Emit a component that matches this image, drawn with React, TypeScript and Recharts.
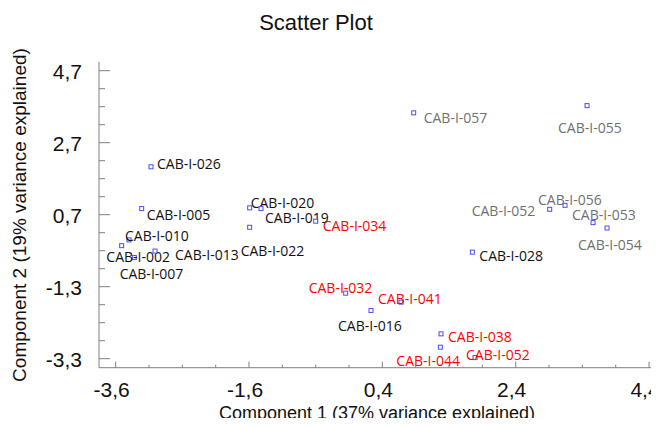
import { ScatterChart, Scatter, XAxis, YAxis } from "recharts";

// PCA scores
const names = [
  "CAB-I-026", "CAB-I-005", "CAB-I-020", "CAB-I-019", "CAB-I-022", "CAB-I-034",
  "CAB-I-010", "CAB-I-007", "CAB-I-002", "CAB-I-013", "CAB-I-032", "CAB-I-016",
  "CAB-I-041", "CAB-I-038", "CAB-I-044", "CAB-I-052", "CAB-I-028", "CAB-I-057",
  "CAB-I-055", "CAB-I-052", "CAB-I-056", "CAB-I-053", "CAB-I-054",
];
const component1 = [
  -3.07, -3.21, -1.59, -1.42, -1.59, -0.6,
  -3.4, -3.51, -3.32, -3.01, -0.15, 0.23,
  0.68, 1.28, 1.27, 1.79, 1.75, 0.87,
  3.47, 2.91, 3.14, 3.56, 3.77,
];
const component2 = [
  2.03, 0.87, 0.89, 0.87, 0.35, 0.52,
  0.0, -0.16, -0.49, -0.31, -1.48, -1.96,
  -1.73, -2.61, -2.98, -3.27, -0.34, 3.53,
  3.73, 0.85, 0.96, 0.48, 0.33,
];
const groups = [
  "a", "a", "a", "a", "a", "c",
  "a", "a", "a", "a", "c", "a",
  "c", "c", "c", "c", "a", "b",
  "b", "b", "b", "b", "b",
];

const xTicks = [-3.6, -3.1, -2.6, -2.1, -1.6, -1.1, -0.6, -0.1, 0.4, 0.9, 1.4, 1.9, 2.4, 2.9, 3.4, 3.9, 4.4];
const yTicks = [4.7, 4.2, 3.7, 3.2, 2.7, 2.2, 1.7, 1.2, 0.7, 0.2, -0.3, -0.8, -1.3, -1.8, -2.3, -2.8, -3.3];
const xMajorTicks = [-3.6, -1.6, 0.4, 2.4, 4.4];
const yMajorTicks = [4.7, 2.7, 0.7, -1.3, -3.3];

// where each name sits relative to its point (label left edge, vertical middle)
const labelOffsets = [
  [6, -3], [5, 6], [1, -5], [4, 9], [-9, 23], [7, 4],
  [-4, -4], [-2, 28], [-28, -1], [20, 3], [-37, -6], [-33, 15],
  [-23, -4], [7, 3], [-44, 13], [-9, -3], [7, 3], [10, 5],
  [-29, 22], [-78, 1], [-27, -6], [-21, -8], [-29, 16],
];

const groupColors: Record<string, string> = { a: "#111111", b: "#707070", c: "#ff0000" };
const AXIS = "#808080";
const FONT = "'Liberation Sans', Arial, sans-serif";

const data = names.map((name, i) => ({
  name,
  x: component1[i],
  y: component2[i],
  group: groups[i],
  dx: labelOffsets[i][0],
  dy: labelOffsets[i][1],
}));

const isMajor = (v: number, majors: number[]) => majors.some((m) => Math.abs(m - v) < 1e-6);
const fmt = (v: number) => v.toFixed(1).replace(".", ",");

function XTick(props: any) {
  const { x, y, payload, side } = props;
  const major = isMajor(payload.value, xMajorTicks);
  const len = major ? 6 : 3;
  const dir = side === "top" ? 1 : -1;
  return (
    <g>
      <line x1={x} x2={x} y1={y} y2={y + dir * len} stroke={AXIS} />
      {side !== "top" && major && (
        <text x={x - 4} y={y + 29} textAnchor="middle" fontSize={21} fontFamily={FONT} fill="#111">
          {fmt(payload.value)}
        </text>
      )}
    </g>
  );
}

function YTick(props: any) {
  const { x, y, payload, side } = props;
  const major = isMajor(payload.value, yMajorTicks);
  const len = major ? 11 : 6;
  const dir = side === "right" ? -1 : 1;
  return (
    <g>
      <line x1={x} x2={x + dir * len} y1={y} y2={y} stroke={AXIS} />
      {side !== "right" && major && (
        <text x={x - 17} y={y + 8} textAnchor="end" fontSize={21} fontFamily={FONT} fill="#111">
          {fmt(payload.value)}
        </text>
      )}
    </g>
  );
}

function PointShape(props: any) {
  const { cx, cy, payload } = props;
  return (
    <g>
      <rect x={cx - 2} y={cy - 2} width={4} height={4} fill="#fff" stroke="#4b4bff" strokeWidth={1} />
      <text
        x={cx + payload.dx}
        y={cy + payload.dy}
        dominantBaseline="central"
        fontSize={14}
        fontFamily="'Open Sans', sans-serif"
        fill={groupColors[payload.group]}
      >
        {payload.name}
      </text>
    </g>
  );
}

export default function App() {
  return (
    <div style={{ margin: -8, position: "relative", width: 659, height: 426, overflow: "hidden", background: "#fff", fontFamily: FONT }}>
      <div style={{ position: "absolute", left: 0, width: 632, top: 10, textAlign: "center", fontSize: 22, color: "#111" }}>
        Scatter Plot
      </div>
      <ScatterChart width={680} height={426} margin={{ top: 61.7, right: 14.3, bottom: 28.3, left: 39 }}>
        <XAxis
          xAxisId="bottom"
          type="number"
          dataKey="x"
          domain={[-3.85, 4.65]}
          allowDataOverflow
          ticks={xTicks}
          interval={0}
          height={30}
          tickSize={0}
          tickMargin={0}
          tickLine={false}
          axisLine={{ stroke: AXIS }}
          tick={<XTick side="bottom" />}
        />
        <XAxis
          xAxisId="top"
          orientation="top"
          type="number"
          domain={[-3.85, 4.65]}
          allowDataOverflow
          ticks={xTicks}
          interval={0}
          height={0}
          tickSize={0}
          tickMargin={0}
          tickLine={false}
          axisLine={{ stroke: AXIS }}
          tick={<XTick side="top" />}
        />
        <YAxis
          yAxisId="left"
          type="number"
          dataKey="y"
          domain={[-3.55, 4.95]}
          allowDataOverflow
          ticks={yTicks}
          interval={0}
          width={60}
          tickSize={0}
          tickMargin={0}
          tickLine={false}
          axisLine={{ stroke: AXIS }}
          tick={<YTick side="left" />}
        />
        <YAxis
          yAxisId="right"
          orientation="right"
          type="number"
          domain={[-3.55, 4.95]}
          allowDataOverflow
          ticks={yTicks}
          interval={0}
          width={0}
          tickSize={0}
          tickMargin={0}
          tickLine={false}
          axisLine={{ stroke: AXIS }}
          tick={<YTick side="right" />}
        />
        <Scatter xAxisId="bottom" yAxisId="left" data={data} shape={PointShape} isAnimationActive={false} />
      </ScatterChart>
      <div style={{ position: "absolute", left: 0, width: 754, top: 403, textAlign: "center", fontSize: 18, color: "#111" }}>
        Component 1 (37% variance explained)
      </div>
      <div
        style={{
          position: "absolute",
          left: 20,
          top: 215,
          transform: "translate(-50%, -50%) rotate(-90deg)",
          whiteSpace: "nowrap",
          fontSize: 19,
          color: "#111",
        }}
      >
        Component 2 (19% variance explained)
      </div>
    </div>
  );
}
